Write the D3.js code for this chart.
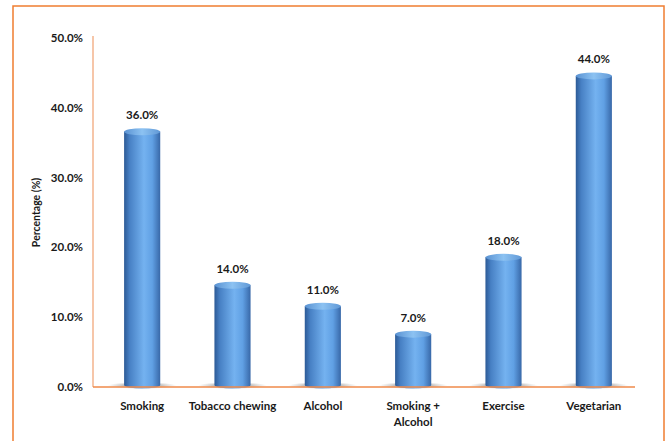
<!DOCTYPE html>
<html>
<head>
<meta charset="utf-8">
<script src="https://cdn.jsdelivr.net/npm/d3@7"></script>
<style>
  body { margin: 0; background: #fff; }
  text { font-family: Lato, "Liberation Sans", sans-serif; font-weight: bold; fill: #1a1a1a; }
</style>
</head>
<body>
<svg id="chart" width="667" height="441"></svg>
<script>
// DATA
const categories = ["Smoking", "Tobacco chewing", "Alcohol", "Smoking + Alcohol", "Exercise", "Vegetarian"];
const values = [36.0, 14.0, 11.0, 7.0, 18.0, 44.0];
const yTicks = [0, 10, 20, 30, 40, 50];

const svg = d3.select("#chart");
const width = +svg.attr("width");
const height = +svg.attr("height");

// outer frame
svg.append("rect")
  .attr("x", 13).attr("y", 6)
  .attr("width", 651).attr("height", 445)
  .attr("fill", "none")
  .attr("stroke", "#ef7d31")
  .attr("stroke-width", 1.5);

// scales
const x = d3.scaleBand().domain(categories).range([97, 639]).paddingInner(0.6).paddingOuter(0.3);
const y = d3.scaleLinear().domain([0, 50]).range([387, 38]);

// gradients
const defs = svg.append("defs");
const bodyGrad = defs.append("linearGradient").attr("id", "cyl").attr("x1", 0).attr("x2", 1).attr("y1", 0).attr("y2", 0);
[[0, "#2c5a96"], [0.15, "#4780c4"], [0.55, "#74b2f0"], [0.78, "#60a0e4"], [1, "#3868a8"]]
  .forEach(([o, c]) => bodyGrad.append("stop").attr("offset", o).attr("stop-color", c));
const topGrad = defs.append("linearGradient").attr("id", "cylTop").attr("x1", 0).attr("x2", 1);
[[0, "#5a92d2"], [0.5, "#8cc2f2"], [1, "#6098d6"]]
  .forEach(([o, c]) => topGrad.append("stop").attr("offset", o).attr("stop-color", c));
const shadowGrad = defs.append("radialGradient").attr("id", "shadow");
[[0, "rgba(40,40,40,0.7)"], [0.6, "rgba(80,80,80,0.3)"], [1, "rgba(120,120,120,0)"]]
  .forEach(([o, c]) => shadowGrad.append("stop").attr("offset", o).attr("stop-color", c));

const data = categories.map((c, i) => ({ cat: c, val: values[i] }));
const bw = x.bandwidth();
const ry = 3.5;
const lift = 4; // 3D top sits slightly above the value line

const bars = svg.append("g").selectAll("g").data(data).join("g");

// base shadow
bars.append("ellipse")
  .attr("cx", d => x(d.cat) + bw / 2)
  .attr("cy", y(0) - 1.5)
  .attr("rx", bw * 0.95)
  .attr("ry", 3.5)
  .attr("fill", "url(#shadow)");

// cylinder body
bars.append("path")
  .attr("d", d => {
    const x0 = x(d.cat), x1 = x0 + bw, yt = y(d.val) - lift, yb = y(0) - 2;
    return `M${x0},${yt} L${x0},${yb} A${bw / 2},${ry} 0 0 0 ${x1},${yb} L${x1},${yt} Z`;
  })
  .attr("fill", "url(#cyl)");

// cylinder top
bars.append("ellipse")
  .attr("cx", d => x(d.cat) + bw / 2)
  .attr("cy", d => y(d.val) - lift)
  .attr("rx", bw / 2)
  .attr("ry", ry)
  .attr("fill", "url(#cylTop)");

// value labels
bars.append("text")
  .attr("x", d => x(d.cat) + bw / 2)
  .attr("y", d => y(d.val) - lift - ry - 9)
  .attr("text-anchor", "middle")
  .attr("font-size", 11.5)
  .text(d => d.val.toFixed(1) + "%");

// axes lines
svg.append("line").attr("x1", 93).attr("x2", 93).attr("y1", y(50) - 2).attr("y2", y(0))
  .attr("stroke", "#f0a070").attr("stroke-width", 1.2);
svg.append("line").attr("x1", 93).attr("x2", 635).attr("y1", y(0)).attr("y2", y(0))
  .attr("stroke", "#ef8a4a").attr("stroke-width", 1.5);

// y tick labels
svg.append("g").selectAll("text").data(yTicks).join("text")
  .attr("x", 83)
  .attr("y", d => y(d))
  .attr("dy", "0.35em")
  .attr("text-anchor", "end")
  .attr("font-size", 11.5)
  .text(d => d.toFixed(1) + "%");

// x labels
const xl = svg.append("g").selectAll("text").data(categories).join("text")
  .attr("x", d => x(d) + bw / 2)
  .attr("y", 410)
  .attr("text-anchor", "middle")
  .attr("font-size", 11.5);
xl.each(function (d) {
  const lines = d === "Smoking + Alcohol" ? ["Smoking +", "Alcohol"] : [d];
  d3.select(this).selectAll("tspan").data(lines).join("tspan")
    .attr("x", x(d) + bw / 2)
    .attr("dy", (l, i) => i === 0 ? 0 : 16)
    .text(l => l);
});

// y axis title
svg.append("text")
  .attr("transform", `translate(40,${(y(0) + y(50)) / 2}) rotate(-90)`)
  .attr("text-anchor", "middle")
  .attr("font-size", 10.5)
  .text("Percentage (%)");
</script>
</body>
</html>
